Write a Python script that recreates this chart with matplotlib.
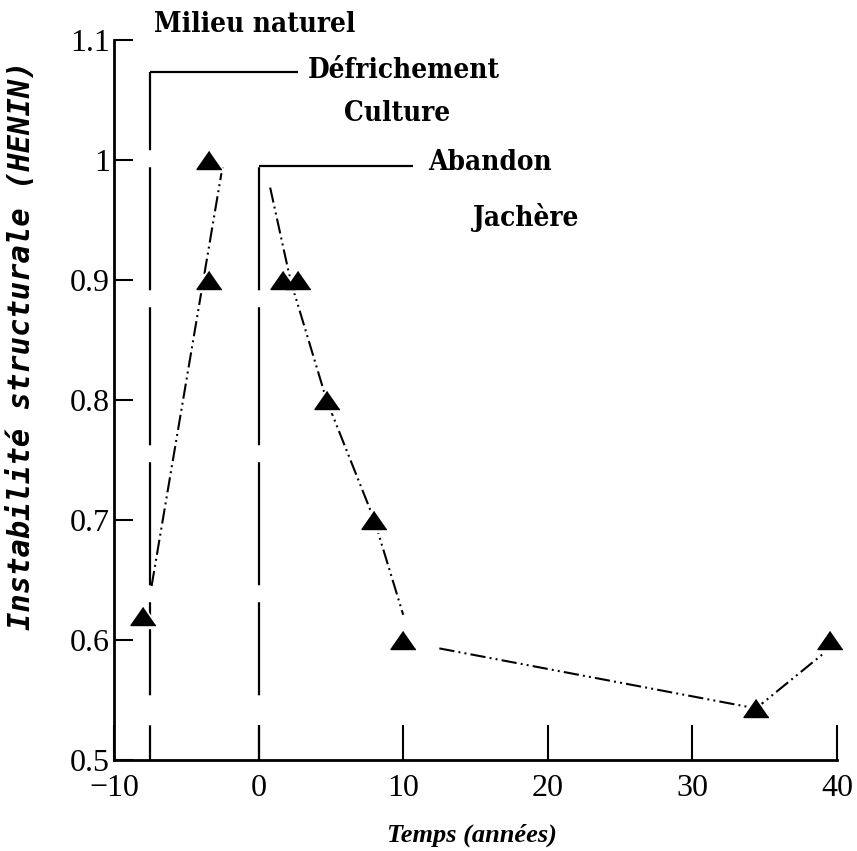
import matplotlib.pyplot as plt

# Données
temps = [-8.0, -3.4, -3.4, 1.7, 2.7, 4.7, 8.0, 10.0, 34.4, 39.5]
instabilite = [0.62, 1.0, 0.9, 0.9, 0.9, 0.8, 0.7, 0.6, 0.543, 0.6]

# Traits de tendance (tracés à la main sur l'original)
tendance_a_x = [-7.4, -2.5]
tendance_a_y = [0.645, 0.994]
tendance_b_x = [0.8, 2.2, 4.7, 8.0, 10.0]
tendance_b_y = [0.977, 0.9, 0.8, 0.7, 0.621]
tendance_c_x = [12.5, 34.4, 39.4]
tendance_c_y = [0.593, 0.543, 0.592]

# Limites des phases : (x du trait vertical, y du coude, x de fin du trait horizontal)
defrichement = (-7.5, 1.073, 2.7)
abandon = (0.0, 0.995, 10.7)

phases = ['Milieu naturel', 'Défrichement', 'Culture', 'Abandon', 'Jachère']

x_ticks = [-10, 0, 10, 20, 30, 40]
x_labels = ['\u221210', '0', '10', '20', '30', '40']
y_ticks = [0.5, 0.6, 0.7, 0.8, 0.9, 1.0, 1.1]
y_labels = ['0.5', '0.6', '0.7', '0.8', '0.9', '1', '1.1']

plt.rcParams['lines.scale_dashes'] = False

fig = plt.figure(figsize=(8.57, 8.51), dpi=100)
ax = fig.add_axes([114 / 857, 91 / 851, 723 / 857, 720 / 851])
ax.set_xlim(-10, 40)
ax.set_ylim(0.5, 1.1)

# Traits verticaux en tirets longs (motif lu de bas en haut)
motif_vertical = (0, (25, 21.6, 67, 12.2, 88.6, 12.2, 99.4, 12.2, 88.6, 12.2, 60, 100))
for xv, yc, xe in [defrichement, abandon]:
    ax.plot([xv, xv], [0.5, yc], color='black', lw=1.6,
            linestyle=motif_vertical, solid_capstyle='butt', dash_capstyle='butt')
    ax.plot([xv, xe], [yc, yc], color='black', lw=1.6, solid_capstyle='butt')

# Traits de tendance tiret-point-point
motif_tendance = (0, (11, 3, 1.4, 3, 1.4, 3))
for tx, ty in [(tendance_a_x, tendance_a_y), (tendance_b_x, tendance_b_y),
               (tendance_c_x, tendance_c_y)]:
    ax.plot(tx, ty, color='black', lw=1.5, linestyle=motif_tendance,
            dash_capstyle='butt', zorder=2)

# Triangles (avec un liseré blanc pour couper les traits)
tri = [(0, 0.72), (-1, -0.72), (1, -0.72)]
ax.plot(temps, instabilite, linestyle='none', marker=tri, ms=24,
        color='white', zorder=3, clip_on=False)
ax.plot(temps, instabilite, linestyle='none', marker=tri, ms=18,
        color='black', zorder=4, clip_on=False)

# Légendes des phases
police_phase = dict(family='DejaVu Serif', fontweight='bold', fontstretch='condensed',
                    fontsize=20, va='center', ha='left')
positions = [(-7.2, 1.1125), (3.4, 1.075), (5.9, 1.039), (11.7, 0.9975), (14.8, 0.9525)]
for texte, (px, py) in zip(phases, positions):
    ax.text(px, py, texte, clip_on=False, **police_phase)

# Axes
for cote in ['top', 'right']:
    ax.spines[cote].set_visible(False)
for cote in ['left', 'bottom']:
    ax.spines[cote].set_linewidth(2)

ax.set_xticks(x_ticks)
ax.set_xticklabels(x_labels, family='Liberation Serif', fontsize=23)
ax.set_yticks(y_ticks)
ax.set_yticklabels(y_labels, family='Liberation Serif', fontsize=23)
ax.tick_params(axis='x', direction='in', length=25, width=1.5, pad=10)
ax.tick_params(axis='y', direction='in', length=13.7, width=1.5, pad=3)

ax.set_xlabel('Temps (années)', family='Liberation Serif', fontweight='bold',
              fontstyle='italic', fontsize=19, va='center')
ax.xaxis.set_label_coords(0.495, -0.104)
ax.set_ylabel('Instabilité structurale (HENIN)', family='DejaVu Sans Mono',
              fontweight='bold', fontstyle='italic', fontsize=22, va='center')
ax.yaxis.set_label_coords(-0.1286, 0.5757)

fig.savefig('out.png', dpi=100)
